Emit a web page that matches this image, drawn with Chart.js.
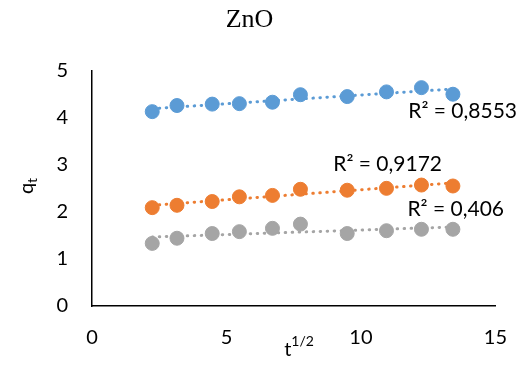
<!DOCTYPE html>
<html>
<head>
<meta charset="utf-8">
<script src="https://cdn.jsdelivr.net/npm/chart.js@4/dist/chart.umd.min.js"></script>
<style>
html,body{margin:0;padding:0;background:#fff}
#wrap{width:527px;height:372px}
</style>
</head>
<body>
<div id="wrap"><canvas id="Chart1HTML"></canvas></div>
<script>
// sqrt(t) values and uptake for each series
let T_ROOT=[2.24,3.16,4.47,5.48,6.71,7.75,9.49,10.95,12.25,13.42]
let Q_BLUE=[4.13,4.26,4.29,4.30,4.33,4.49,4.45,4.55,4.64,4.50]
let Q_ORANGE=[2.09,2.14,2.22,2.32,2.35,2.48,2.46,2.50,2.57,2.55]
let Q_GREY=[1.33,1.44,1.54,1.58,1.65,1.74,1.54,1.60,1.63,1.63]
let R2_LABELS=["R\u00B2 = 0,8553","R\u00B2 = 0,9172","R\u00B2 = 0,406"]
let X_TICKS=[0,5,10,15]
let Y_TICKS=[0,1,2,3,4,5]

let BLUE='#5B9BD5',ORANGE='#ED7D31',GREY='#A5A5A5'
let FAM='Lato, "Open Sans", sans-serif'
let TICKFONT={family:FAM,size:20}

function pts(Y){return T_ROOT.map((t,i)=>({x:t,y:Y[i]}))}

// least squares trend line over the data range
function Trend(Y){
	let n=T_ROOT.length,sx=0,sy=0,sxx=0,sxy=0
	for(let i=0;i<n;i++){sx+=T_ROOT[i];sy+=Y[i];sxx+=T_ROOT[i]*T_ROOT[i];sxy+=T_ROOT[i]*Y[i]}
	let b=(n*sxy-sx*sy)/(n*sxx-sx*sx),a=(sy-b*sx)/n
	let x0=T_ROOT[0],x1=T_ROOT[n-1]
	return [{x:x0,y:a+b*x0},{x:x1,y:a+b*x1}]
}

function trendSet(Y,c){
	return {type:'line',data:Trend(Y),borderColor:c,borderWidth:3,borderDash:[0.5,6.5],borderCapStyle:'round',pointRadius:0,fill:false,order:2}
}
function dotSet(Y,c){
	return {type:'scatter',data:pts(Y),backgroundColor:c,borderColor:c,pointRadius:7,pointHoverRadius:7,order:1}
}

// axis titles with sub/superscript + R² labels
let textPlugin={
	id:'textPlugin',
	afterDraw(chart){
		let ctx=chart.ctx,xs=chart.scales.x,ys=chart.scales.y
		ctx.save()
		ctx.fillStyle='#000'
		ctx.textBaseline='alphabetic'
		// y title q_t rotated
		ctx.save()
		ctx.translate(33,186)
		ctx.rotate(-Math.PI/2)
		ctx.font='20px '+FAM
		ctx.textAlign='left'
		let wq=ctx.measureText('q').width
		ctx.font='14px '+FAM
		let wt=ctx.measureText('t').width
		let x0=-(wq+wt)/2
		ctx.font='20px '+FAM
		ctx.fillText('q',x0,0)
		ctx.font='14px '+FAM
		ctx.fillText('t',x0+wq,4)
		ctx.restore()
		// x title t^1/2
		ctx.font='20px '+FAM
		let w1=ctx.measureText('t').width
		ctx.font='14px '+FAM
		let w2=ctx.measureText('1/2').width
		let sx=299-(w1+w2)/2
		ctx.font='20px '+FAM
		ctx.fillText('t',sx,356)
		ctx.font='14px '+FAM
		ctx.fillText('1/2',sx+w1,346)
		// R² labels
		ctx.font='21px '+FAM
		let where=[[11.76,4.0],[8.97,2.87],[11.73,1.91]]
		R2_LABELS.forEach((s,i)=>{
			ctx.fillText(s,xs.getPixelForValue(where[i][0]),ys.getPixelForValue(where[i][1]))
		})
		ctx.restore()
	}
}

let Chart1=new Chart(document.getElementById('Chart1HTML'),{
	data:{datasets:[
		trendSet(Q_BLUE,BLUE),trendSet(Q_ORANGE,ORANGE),trendSet(Q_GREY,GREY),
		dotSet(Q_BLUE,BLUE),dotSet(Q_ORANGE,ORANGE),dotSet(Q_GREY,GREY)
	]},
	options:{
		responsive:true,maintainAspectRatio:false,animation:false,
		layout:{padding:{left:0,right:28,top:0,bottom:0}},
		plugins:{
			legend:{display:false},tooltip:{enabled:false},
			title:{display:true,text:'ZnO',color:'#000',
				font:{family:'"Liberation Serif", "Times New Roman", serif',size:26,weight:'normal',lineHeight:1.2},
				padding:{top:5,bottom:34.5}}
		},
		scales:{
			x:{type:'linear',min:0,max:15,
				afterBuildTicks(s){s.ticks=X_TICKS.map(v=>({value:v}))},
				afterFit(s){s.height=66},
				grid:{display:false,drawTicks:false},
				border:{display:true,color:'#000',width:1.5},
				ticks:{color:'#000',font:TICKFONT,padding:20}},
			y:{type:'linear',min:0,max:5,
				afterBuildTicks(s){s.ticks=Y_TICKS.map(v=>({value:v}))},
				afterFit(s){s.width=92},
				grid:{display:false,drawTicks:false},
				border:{display:true,color:'#000',width:1.5},
				ticks:{color:'#000',font:TICKFONT,padding:24}}
		}
	},
	plugins:[textPlugin]
})
</script>
</body>
</html>
